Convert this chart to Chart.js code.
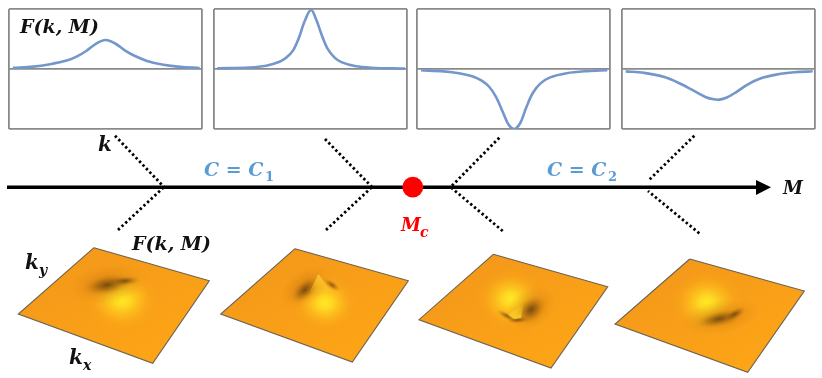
<!DOCTYPE html>
<html><head><meta charset="utf-8">
<style>
html,body{margin:0;padding:0;background:#fff;width:822px;height:378px;overflow:hidden}
canvas{position:absolute;display:block;filter:blur(0.45px)}
</style>
<script src="https://cdn.jsdelivr.net/npm/chart.js@4"></script>
</head><body>
<canvas id="p1" width="197" height="124" style="left:7px;top:7px"></canvas>
<canvas id="p2" width="197" height="124" style="left:212px;top:7px"></canvas>
<canvas id="p3" width="197" height="124" style="left:415px;top:7px"></canvas>
<canvas id="p4" width="197" height="124" style="left:620px;top:7px"></canvas>
<canvas id="scene" width="822" height="378" style="left:0;top:0"></canvas>
<script>
// Curves F(k, M) in the four top panels
const k1 = [-.96,-.75,-.574,-.4,-.3,-.2,-.1,0,.1,.2,.3,.43,.6,.775,.976];
const f1 = [.02,.04,.08,.14,.205,.3,.42,.483,.425,.31,.22,.135,.07,.035,.017];
const k2 = [-.965,-.633,-.459,-.321,-.25,-.18,-.12,-.06,.005,.06,.12,.18,.25,.32,.46,.63,.979];
const f2 = [.011,.025,.055,.12,.19,.31,.52,.8,.985,.82,.55,.33,.19,.115,.05,.022,.006];
const k3 = [-.958,-.723,-.55,-.42,-.33,-.25,-.18,-.11,-.05,.01,.07,.13,.2,.28,.38,.55,.765,.972];
const f3 = [-.022,-.04,-.075,-.125,-.195,-.3,-.47,-.72,-.93,-1,-.9,-.65,-.4,-.24,-.14,-.07,-.035,-.02];
const k4 = [-.962,-.77,-.56,-.39,-.25,-.13,-.05,.01,.08,.18,.3,.44,.61,.785,.976];
const f4 = [-.04,-.065,-.135,-.25,-.37,-.47,-.505,-.51,-.48,-.39,-.26,-.155,-.09,-.055,-.038];

// Parameter axis M
const axisX = [7, 757];
const axisY = [187.3, 187.3];
const arrowX = [756, 771, 756, 756];
const arrowY = [180, 187.3, 195, 180];
const criticalX = [412.8];
const criticalY = [187.2];
const dottedSegments = [
  [115,135.7,164,187],[118,230,164,187],
  [325,139,372,187],[326,230,372,187],
  [499.3,137.7,451.7,186],[502.7,231,451.7,188],
  [694.3,135.7,648,181],[699.3,233.3,648,191]
];

// Surface sheets (corner outline) and their shading spots
const sheets = [
  [[94,247.7],[209.3,280.7],[152.7,363.3],[18.3,314]],
  [[295,248.7],[408.3,280.7],[352.3,362],[220.7,314]],
  [[493.3,254.3],[607.7,286.7],[551,368],[419,319.7]],
  [[689.7,259],[804.3,291],[747.7,372.3],[615,324]]
];
// x, y, kind, rx, ry, rotation (painted in this order)
const spots = [
  [122,300,'yellow',40,34,0],
  [108,284,'halo',40,20,-8],
  [107,285,'dark',24,10,-10],
  [125,281,'dark',16,5,-4],
  [325,303,'yellow',36,31,0],
  [305,287,'halo',28,17,-35],
  [305,290,'dark',17,9,-40],
  [332,285,'dark',10,4,35],
  [511,299,'yellow',38,33,0],
  [531,308,'halo',27,20,-35],
  [531,310,'dark',17,12,-42],
  [507,316,'dark',12,3.5,28],
  [518,320,'dark',11,3.5,-4],
  [707,303,'yellow',40,35,0],
  [720,317,'halo',40,17,-10],
  [719,319,'dark',24,8,-12],
  [735,314,'dark',12,5,-30]
];
// cone faces of the sharpest peaks
const conePoints = [
  [[318.5,274],[309,293],[332,293]],
  [[524,303],[508,315],[514,319],[521,318]]
];

// Text
const labels = [
  ['F(k, M)',20,33,'bold italic 19px "DejaVu Serif"','#111'],
  ['k',98,151,'bold italic 20px "DejaVu Serif"','#111'],
  ['C = C',204,176,'bold italic 19px "DejaVu Serif"','#5B9BD5'],
  ['1',265,181,'bold 13px "DejaVu Serif"','#5B9BD5'],
  ['M',401,231,'bold italic 18px "DejaVu Serif"','#FF0000'],
  ['c',420,237,'bold italic 14px "DejaVu Serif"','#FF0000'],
  ['C = C',547,176,'bold italic 19px "DejaVu Serif"','#5B9BD5'],
  ['2',608,181,'bold 13px "DejaVu Serif"','#5B9BD5'],
  ['M',783,194,'bold italic 18px "DejaVu Serif"','#111'],
  ['F(k, M)',132,250,'bold italic 19px "DejaVu Serif"','#111'],
  ['k',25,269,'bold italic 20px "DejaVu Serif"','#111'],
  ['y',39,275,'bold italic 14px "DejaVu Serif"','#111'],
  ['k',69,364,'bold italic 20px "DejaVu Serif"','#111'],
  ['x',83,370,'bold italic 14px "DejaVu Serif"','#111']
];

const FRAME = '#8a8a8a', CURVE = '#7397cb';
function panel(id, k, f){
  new Chart(document.getElementById(id), {
    type:'line',
    data:{datasets:[{data:k.map((x,i)=>({x,y:f[i]})),borderColor:CURVE,borderWidth:2.6,pointRadius:0,tension:.35}]},
    options:{
      responsive:false,animation:false,
      layout:{padding:2,autoPadding:false},
      plugins:{legend:{display:false},tooltip:{enabled:false}},
      scales:{
        x:{type:'linear',min:-1,max:1,border:{display:false},
           grid:{color:FRAME,lineWidth:1.8,drawTicks:false},ticks:{display:false},
           afterBuildTicks:s=>{s.ticks=[{value:-1},{value:1}]}},
        y:{min:-1,max:1,border:{display:false},
           grid:{color:FRAME,lineWidth:1.8,drawTicks:false},ticks:{display:false},
           afterBuildTicks:s=>{s.ticks=[{value:-1},{value:0},{value:1}]}}
      }
    }
  });
}
panel('p1',k1,f1);panel('p2',k2,f2);panel('p3',k3,f3);panel('p4',k4,f4);

const tints = {
  yellow:[[0,'rgba(255,232,38,1)'],[.2,'rgba(255,226,36,.85)'],[.45,'rgba(255,208,32,.52)'],[.72,'rgba(255,185,28,.17)'],[1,'rgba(255,170,20,0)']],
  halo:[[0,'rgba(170,95,12,.5)'],[.5,'rgba(190,110,14,.25)'],[1,'rgba(210,125,16,0)']],
  dark:[[0,'rgba(60,36,10,.62)'],[.45,'rgba(100,60,10,.34)'],[.75,'rgba(140,80,10,.12)'],[1,'rgba(170,95,10,0)']]
};
function sprite(kind, rx, ry){
  const c = document.createElement('canvas');
  c.width = Math.ceil(rx*2); c.height = Math.ceil(ry*2);
  const g = c.getContext('2d');
  g.translate(c.width/2,c.height/2); g.scale(rx,ry);
  const rg = g.createRadialGradient(0,0,0,0,0,1);
  tints[kind].forEach(s=>rg.addColorStop(s[0],s[1]));
  g.fillStyle = rg; g.beginPath(); g.arc(0,0,1,0,Math.PI*2); g.fill();
  return c;
}
const textPlugin = {id:'text',afterDraw(chart){
  const c = chart.ctx; c.save(); c.textBaseline='alphabetic';
  labels.forEach(l=>{c.font=l[3];c.fillStyle=l[4];c.fillText(l[0],l[1],l[2]);});
  c.restore();
}};
const gctx = document.getElementById('scene').getContext('2d');
const datasets = [];
datasets.push({data:[{x:criticalX[0],y:criticalY[0]}],pointRadius:10.4,pointBackgroundColor:'#ff0000',pointBorderWidth:0,showLine:false});
datasets.push({data:arrowX.map((x,i)=>({x,y:arrowY[i]})),showLine:true,fill:'shape',backgroundColor:'#000',borderColor:'#000',borderWidth:0,pointRadius:0});
datasets.push({data:axisX.map((x,i)=>({x,y:axisY[i]})),showLine:true,borderColor:'#000',borderWidth:3.4,pointRadius:0});
dottedSegments.forEach(s=>datasets.push({data:[{x:s[0],y:s[1]},{x:s[2],y:s[3]}],showLine:true,borderColor:'#000',borderWidth:2.8,borderDash:[2.4,2.6],pointRadius:0}));
conePoints.forEach((q,n)=>{
  const ys=q.map(p=>p[1]), g=gctx.createLinearGradient(0,Math.min(...ys),0,Math.max(...ys));
  if(n===0){
    g.addColorStop(0,'rgba(255,205,70,.85)');
    g.addColorStop(.55,'rgba(255,212,45,.5)');
    g.addColorStop(1,'rgba(255,220,40,0)');
  }else{
    g.addColorStop(0,'rgba(255,215,45,0)');
    g.addColorStop(1,'rgba(255,220,50,.75)');
  }
  datasets.push({data:q.concat([q[0]]).map(p=>({x:p[0],y:p[1]})),showLine:true,fill:'shape',backgroundColor:g,borderWidth:0,borderColor:'rgba(0,0,0,0)',pointRadius:0});
});
datasets.push({data:spots.map(s=>({x:s[0],y:s[1]})),showLine:false,
  pointStyle:spots.map(s=>sprite(s[2],s[3],s[4])),
  rotation:spots.map(s=>s[5]),radius:1,borderWidth:0});
sheets.forEach(q=>{
  const pts = q.concat([q[0]]);
  const g = gctx.createLinearGradient(q[0][0],q[0][1],q[2][0],q[2][1]);
  g.addColorStop(0,'#f4991a'); g.addColorStop(1,'#fda516');
  datasets.push({data:pts.map(p=>({x:p[0],y:p[1]})),showLine:true,fill:'shape',backgroundColor:g,borderColor:'#6b6250',borderWidth:1.1,pointRadius:0,tension:0});
});
new Chart(document.getElementById('scene'),{
  type:'scatter',
  data:{datasets},
  options:{
    responsive:false,animation:false,
    layout:{padding:0,autoPadding:false},
    plugins:{legend:{display:false},tooltip:{enabled:false}},
    scales:{x:{type:'linear',min:0,max:822,display:false},y:{type:'linear',min:0,max:378,reverse:true,display:false}}
  },
  plugins:[textPlugin]
});
</script>
</body></html>
